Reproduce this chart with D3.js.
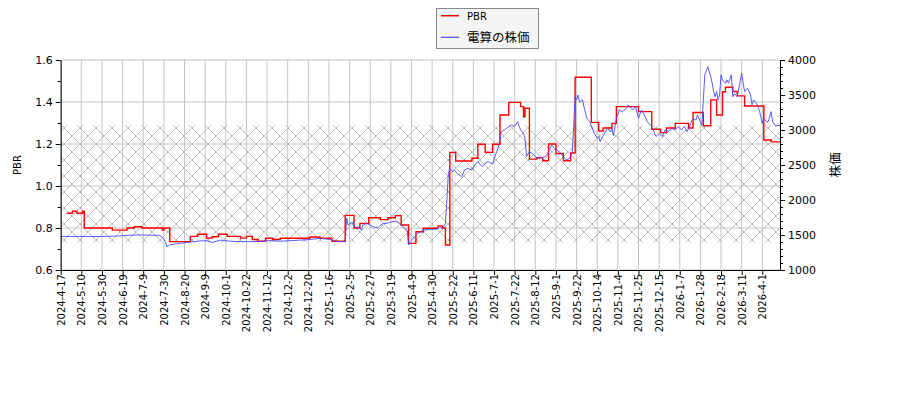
<!DOCTYPE html>
<html>
<head>
<meta charset="utf-8">
<script src="https://cdn.jsdelivr.net/npm/d3@7"></script>
<style>
  body { margin: 0; background: #fff; }
  text { font-family: "DejaVu Sans", sans-serif; }
</style>
</head>
<body>
<div id="chart"></div>
<script>
// x is the trading-day index since 2024-4-17; a tick every 14 trading days
const tickLabels = ["2024-4-17","2024-5-10","2024-5-30","2024-6-19","2024-7-9","2024-7-30","2024-8-20","2024-9-9","2024-10-1","2024-10-22","2024-11-12","2024-12-2","2024-12-20","2025-1-16","2025-2-5","2025-2-27","2025-3-19","2025-4-9","2025-4-30","2025-5-22","2025-6-11","2025-7-1","2025-7-22","2025-8-12","2025-9-1","2025-9-22","2025-10-14","2025-11-4","2025-11-25","2025-12-15","2026-1-7","2026-1-28","2026-2-18","2026-3-11","2026-4-1"];
const tickEvery = 14;
const lastDay = 488;

// PBR, step values [day, pbr]
const pbrSteps = [[4,0.87],[8,0.88],[11,0.87],[15,0.88],[16,0.80],[35,0.79],[45,0.80],[50,0.806],[55,0.80],[69,0.79],[70,0.80],[74,0.735],[88,0.76],[93,0.77],[99,0.752],[103,0.758],[107,0.77],[113,0.76],[122,0.752],[126,0.76],[130,0.745],[134,0.737],[139,0.751],[144,0.745],[149,0.751],[169,0.757],[176,0.751],[184,0.737],[193,0.86],[199,0.80],[203,0.822],[209,0.849],[217,0.84],[222,0.849],[227,0.859],[231,0.814],[236,0.727],[241,0.782],[246,0.799],[256,0.81],[259,0.80],[261,0.719],[264,1.16],[268,1.119],[279,1.132],[283,1.199],[288,1.16],[293,1.199],[298,1.338],[304,1.398],[312,1.378],[314,1.33],[315,1.37],[318,1.128],[323,1.135],[327,1.12],[331,1.2],[336,1.155],[341,1.12],[346,1.157],[349,1.518],[360,1.303],[365,1.262],[368,1.276],[374,1.298],[377,1.378],[392,1.354],[401,1.27],[407,1.254],[411,1.276],[417,1.298],[426,1.276],[429,1.35],[436,1.287],[441,1.41],[445,1.338],[449,1.449],[451,1.47],[456,1.45],[459,1.429],[464,1.381],[477,1.219],[482,1.21],[488,1.21]];

// 電算の株価 [day, yen]
const stockPrice = [[0,1480],[13,1480],[27,1478],[40,1486],[49,1500],[56,1501],[64,1495],[67,1495],[69,1465],[71,1405],[72,1333],[74,1360],[77,1369],[81,1381],[88,1399],[94,1414],[99,1420],[103,1393],[108,1426],[115,1411],[122,1405],[128,1405],[135,1408],[142,1420],[149,1411],[156,1420],[162,1426],[169,1435],[176,1453],[183,1435],[189,1405],[193,1405],[194,1738],[195,1642],[198,1687],[200,1600],[202,1618],[204,1570],[205,1642],[208,1666],[210,1642],[212,1618],[215,1600],[217,1642],[219,1666],[221,1666],[223,1678],[225,1690],[228,1690],[230,1666],[232,1618],[235,1570],[236,1357],[237,1405],[239,1450],[242,1525],[244,1540],[246,1570],[251,1582],[255,1582],[257,1618],[259,1594],[261,1666],[262,1999],[263,2380],[264,2452],[266,2404],[267,2428],[269,2380],[272,2332],[274,2428],[276,2452],[279,2428],[281,2500],[283,2548],[286,2476],[288,2524],[290,2548],[293,2515],[295,2644],[297,2761],[299,2977],[301,3001],[304,3049],[306,3070],[308,3049],[310,3118],[312,3001],[314,2953],[315,2881],[316,2620],[318,2689],[320,2665],[323,2596],[325,2596],[329,2620],[331,2689],[333,2785],[335,2737],[339,2677],[341,2620],[343,2572],[345,2590],[347,2680],[348,3049],[349,3475],[350,3430],[351,3499],[352,3400],[354,3430],[355,3334],[357,3166],[359,3118],[361,3001],[362,2953],[364,2881],[365,2905],[366,2833],[367,2881],[369,2953],[371,3025],[373,2977],[374,3028],[375,2920],[377,3166],[379,3286],[381,3262],[384,3310],[385,3358],[388,3286],[390,3334],[392,3166],[394,3286],[396,3214],[398,3118],[401,3049],[403,2953],[404,2905],[406,2953],[408,2905],[410,3001],[412,2977],[415,3025],[417,3001],[419,3049],[421,3001],[423,3049],[425,2977],[427,3070],[429,3166],[431,3142],[432,3214],[434,3118],[435,3070],[436,3430],[437,3787],[439,3904],[441,3760],[442,3667],[443,3550],[444,3475],[445,3550],[446,3430],[447,3499],[448,3787],[449,3715],[451,3667],[452,3715],[453,3670],[455,3787],[456,3475],[457,3520],[459,3475],[462,3811],[463,3670],[464,3550],[466,3595],[468,3502],[469,3361],[470,3430],[472,3382],[474,3280],[476,3094],[477,3166],[479,3118],[480,3118],[482,3262],[483,3118],[485,3058],[488,3070]];

// hatched PBR band
const pbrBand = [0.73, 1.29];

const pbrTicks = [0.6, 0.8, 1.0, 1.2, 1.4, 1.6];
const pbrMinor = [0.7, 0.9, 1.1, 1.3, 1.5];
const priceTicks = [1000, 1500, 2000, 2500, 3000, 3500, 4000];

let width = 900;
let height = 400;
const plotL = 60.7, plotR = 780, plotT = 60, plotB = 270;

var svg = d3.select("#chart").append("svg")
    .attr("width", width)
    .attr("height", height);

var x = d3.scaleLinear().domain([0, lastDay]).range([plotL, plotR]);
var yL = d3.scaleLinear().domain([0.6, 1.6]).range([plotB, plotT]);
var yR = d3.scaleLinear().domain([1000, 4000]).range([plotB, plotT]);

var tickIdx = tickLabels.map((d, i) => i * tickEvery);

// hatch pattern (x-hatch, gray)
var pat = svg.append("defs").append("pattern")
    .attr("id", "hatch")
    .attr("patternUnits", "userSpaceOnUse")
    .attr("width", 16).attr("height", 16);
pat.append("path")
    .attr("d", "M0,0L16,16M0,16L16,0M-2,2L2,-2M14,18L18,14")
    .attr("stroke", "#a6a6a6")
    .attr("stroke-width", 1)
    .attr("stroke-dasharray", "1.5,0.5")
    .attr("fill", "none");

svg.append("rect")
    .attr("x", plotL).attr("width", plotR - plotL)
    .attr("y", yL(pbrBand[1]))
    .attr("height", yL(pbrBand[0]) - yL(pbrBand[1]))
    .attr("fill", "url(#hatch)");

// grid
var grid = svg.append("g").attr("stroke", "#c4c4c4").attr("stroke-width", 1);
grid.selectAll(".vg").data(tickIdx).join("line")
    .attr("x1", d => x(d)).attr("x2", d => x(d))
    .attr("y1", plotT).attr("y2", plotB);
grid.selectAll(".hg").data(pbrTicks).join("line")
    .attr("x1", plotL).attr("x2", plotR)
    .attr("y1", d => yL(d)).attr("y2", d => yL(d));

// lines
svg.append("path")
    .datum(pbrSteps)
    .attr("fill", "none")
    .attr("stroke", "#ff0000")
    .attr("stroke-width", 1.4)
    .attr("d", d3.line().x(d => x(d[0])).y(d => yL(d[1])).curve(d3.curveStepAfter));

svg.append("path")
    .datum(stockPrice)
    .attr("fill", "none")
    .attr("stroke", "#4848ff")
    .attr("stroke-width", 0.9)
    .attr("d", d3.line().x(d => x(d[0])).y(d => yR(d[1])));

// axes
svg.append("g")
    .attr("transform", `translate(${plotL},0)`)
    .call(d3.axisLeft(yL).tickValues(pbrTicks).tickFormat(d3.format(".1f")).tickSize(5).tickSizeOuter(0).tickPadding(3))
    .call(g => g.selectAll("text").style("font-size", "11px").attr("font-family", "DejaVu Sans"));
svg.append("g")
    .attr("transform", `translate(${plotL},0)`)
    .call(d3.axisLeft(yL).tickValues(pbrMinor).tickFormat("").tickSize(3).tickSizeOuter(0))
    .call(g => g.select(".domain").remove());

svg.append("g")
    .attr("transform", `translate(${plotR},0)`)
    .call(d3.axisRight(yR).tickValues(priceTicks).tickFormat(d => d).tickSize(5).tickSizeOuter(0).tickPadding(3))
    .call(g => g.selectAll("text").style("font-size", "11px").attr("font-family", "DejaVu Sans"));
svg.append("g")
    .attr("transform", `translate(${plotR},0)`)
    .call(d3.axisRight(yR).tickValues(d3.range(1100, 4000, 100).filter(d => d % 500 != 0)).tickFormat("").tickSize(3).tickSizeOuter(0))
    .call(g => g.select(".domain").remove());

svg.append("g")
    .attr("transform", `translate(0,${plotB})`)
    .call(d3.axisBottom(x).tickValues(tickIdx).tickFormat((d, i) => tickLabels[i]).tickSize(5).tickSizeOuter(0))
    .call(g => g.selectAll("text")
        .style("font-size", "10px")
        .attr("font-family", "DejaVu Sans")
        .attr("text-anchor", "end")
        .attr("transform", "rotate(-90)")
        .attr("x", -4)
        .attr("y", 0)
        .attr("dy", "0.35em"));

// axis titles
svg.append("text")
    .attr("transform", "translate(21,165) rotate(-90)")
    .attr("text-anchor", "middle")
    .style("font-size", "10px")
    .text("PBR");
svg.append("text")
    .attr("transform", "translate(840,165) rotate(-90)")
    .attr("text-anchor", "middle")
    .style("font-family", "'Noto Sans CJK JP'")
    .style("font-size", "12.5px")
    .text("株価");

// legend
var lg = svg.append("g");
lg.append("rect")
    .attr("x", 436.5).attr("y", 8.5).attr("width", 102).attr("height", 40)
    .attr("fill", "#f4f4f4").attr("stroke", "#888");
lg.append("line").attr("x1", 441).attr("x2", 459).attr("y1", 15.7).attr("y2", 15.7)
    .attr("stroke", "#ff0000").attr("stroke-width", 1.5);
lg.append("line").attr("x1", 441).attr("x2", 459).attr("y1", 37.3).attr("y2", 37.3)
    .attr("stroke", "#4848ff").attr("stroke-width", 1.2);
lg.append("text").attr("x", 467).attr("y", 19.5).style("font-size", "10px").text("PBR");
lg.append("text").attr("x", 467).attr("y", 41.8)
    .style("font-family", "'Noto Sans CJK JP'").style("font-size", "12.5px").text("電算の株価");
</script>
</body>
</html>
